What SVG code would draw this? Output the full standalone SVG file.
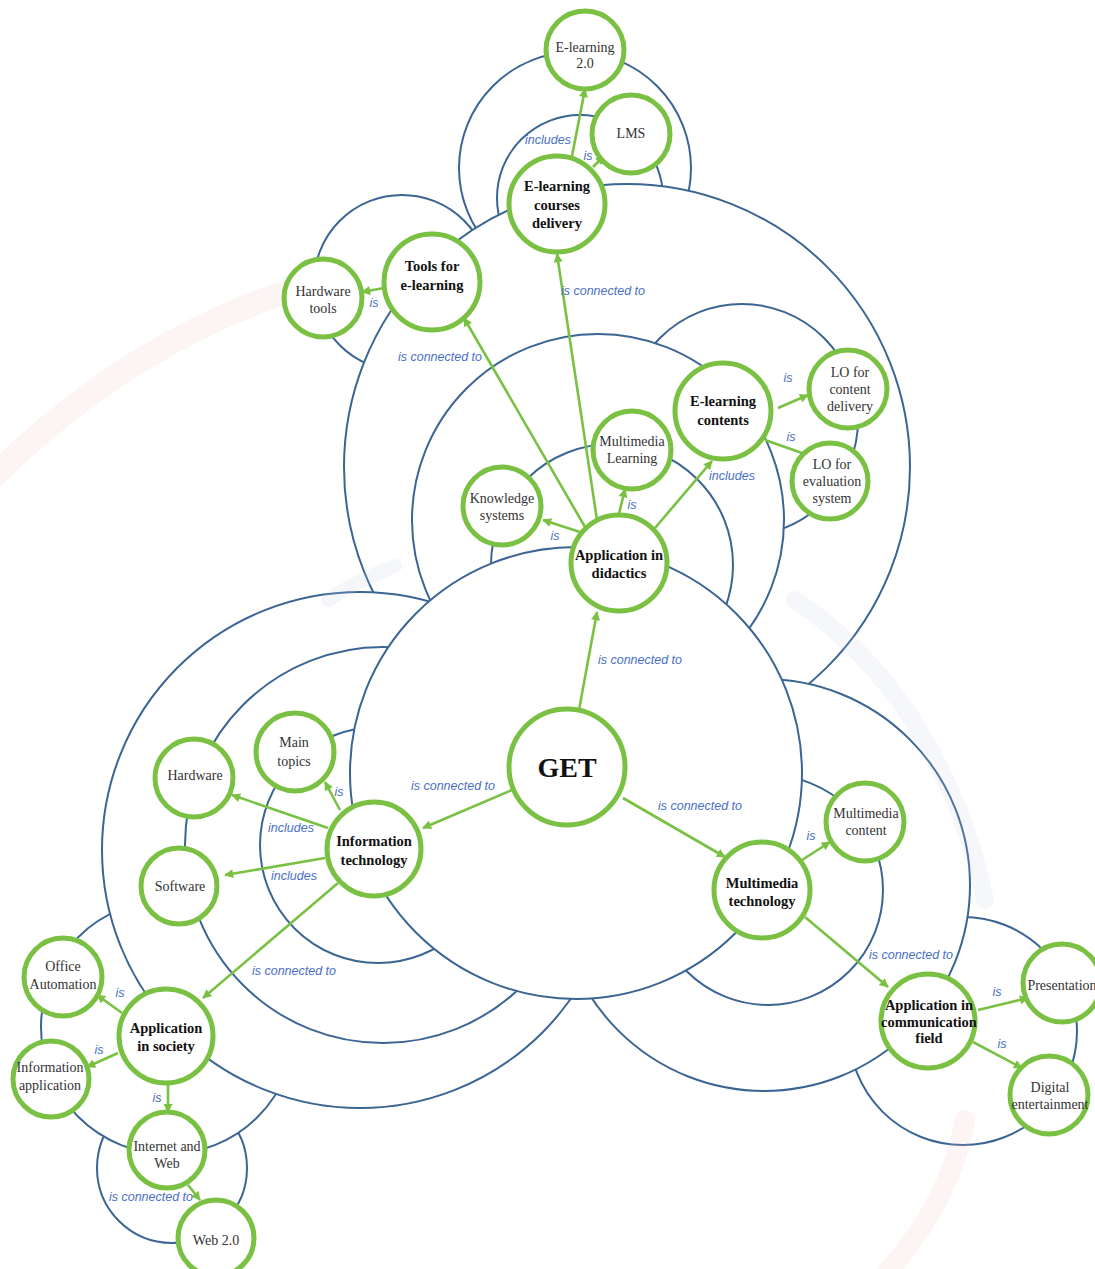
<svg xmlns="http://www.w3.org/2000/svg" width="1095" height="1269" viewBox="0 0 1095 1269">
<style>
.region{fill:#fff;stroke:#3b6593;stroke-width:2}
.node circle{fill:#fff;stroke:#7ac143;stroke-width:5}
.edge{stroke:#7ac143;stroke-width:2.6;fill:none;marker-end:url(#arrow)}
.edge-plain{stroke:#7ac143;stroke-width:2.6;fill:none}
.lbl{font-family:"Liberation Sans",Arial,sans-serif;font-style:italic;font-size:12.5px;fill:#4b6fc6;text-anchor:middle}
.t{font-family:"Liberation Serif","Times New Roman",serif;font-size:14px;fill:#333;text-anchor:middle}
.tb{font-family:"Liberation Serif","Times New Roman",serif;font-weight:bold;font-size:14.5px;fill:#111;text-anchor:middle}
.wm{fill:none;stroke-linecap:round}
</style>
<defs>
<marker id="arrow" viewBox="0 0 10 10" refX="9" refY="5" markerWidth="10" markerHeight="9" markerUnits="userSpaceOnUse" orient="auto"><path d="M0,0 L10,5 L0,10 z" fill="#7ac143"/></marker>
</defs>
<rect width="1095" height="1269" fill="#fff"/>
<g id="regions">
<circle class="region" cx="575" cy="168" r="116"/>
<circle class="region" cx="580" cy="198" r="83"/>
<circle class="region" cx="402" cy="283" r="88"/>
<circle class="region" cx="627" cy="467" r="283"/>
<circle class="region" cx="742" cy="420" r="116"/>
<circle class="region" cx="598" cy="520" r="186"/>
<circle class="region" cx="612" cy="565" r="121"/>
<circle class="region" cx="963" cy="1031" r="114"/>
<circle class="region" cx="764" cy="885" r="206"/>
<circle class="region" cx="768" cy="890" r="115"/>
<circle class="region" cx="172" cy="1168" r="75"/>
<circle class="region" cx="168" cy="1027" r="127"/>
<circle class="region" cx="360" cy="850" r="258"/>
<circle class="region" cx="383" cy="845" r="198"/>
<circle class="region" cx="378" cy="845" r="118"/>
<circle class="region" cx="576" cy="773" r="226"/>
</g>
<g id="watermark" opacity="0.16">
<path class="wm" d="M-10,480 C80,390 190,320 300,288" stroke="#f2b8b8" stroke-width="24"/>
<path class="wm" d="M965,1120 C955,1180 925,1230 885,1275" stroke="#f2b8b8" stroke-width="20"/>
<path class="wm" d="M795,600 C885,660 955,760 985,900" stroke="#c5cde0" stroke-width="18"/>
<path class="wm" d="M328,600 C350,585 372,575 395,566" stroke="#c5cde0" stroke-width="14"/>
</g>
<g id="connectors">
<line class="edge" x1="579" y1="710" x2="597" y2="612"/>
<line class="edge" x1="512" y1="790" x2="423" y2="828"/>
<line class="edge" x1="623" y1="798" x2="725" y2="857"/>
<line class="edge" x1="585" y1="527" x2="464" y2="318"/>
<line class="edge" x1="597" y1="520" x2="557" y2="254"/>
<line class="edge" x1="583" y1="533" x2="543" y2="520"/>
<line class="edge" x1="618" y1="518" x2="625" y2="489"/>
<line class="edge" x1="655" y1="528" x2="712" y2="461"/>
<line class="edge" x1="572" y1="156" x2="585" y2="89"/>
<line class="edge" x1="593" y1="167" x2="604" y2="156"/>
<line class="edge" x1="384" y1="288" x2="362" y2="292"/>
<line class="edge" x1="778" y1="408" x2="808" y2="395"/>
<line class="edge-plain" x1="765" y1="440" x2="802" y2="453"/>
<line class="edge" x1="340" y1="810" x2="325" y2="782"/>
<line class="edge" x1="328" y1="828" x2="232" y2="795"/>
<line class="edge" x1="325" y1="858" x2="225" y2="875"/>
<line class="edge" x1="338" y1="883" x2="203" y2="998"/>
<line class="edge" x1="802" y1="860" x2="830" y2="842"/>
<line class="edge" x1="805" y1="917" x2="888" y2="987"/>
<line class="edge" x1="978" y1="1010" x2="1028" y2="998"/>
<line class="edge" x1="973" y1="1042" x2="1022" y2="1068"/>
<line class="edge" x1="122" y1="1013" x2="97" y2="995"/>
<line class="edge" x1="118" y1="1053" x2="87" y2="1067"/>
<line class="edge" x1="168" y1="1082" x2="168" y2="1112"/>
<line class="edge" x1="188" y1="1185" x2="200" y2="1200"/>
<text class="lbl" x="640" y="664">is connected to</text>
<text class="lbl" x="453" y="790">is connected to</text>
<text class="lbl" x="700" y="810">is connected to</text>
<text class="lbl" x="440" y="361">is connected to</text>
<text class="lbl" x="603" y="295">is connected to</text>
<text class="lbl" x="555" y="540">is</text>
<text class="lbl" x="632" y="509">is</text>
<text class="lbl" x="732" y="480">includes</text>
<text class="lbl" x="548" y="144">includes</text>
<text class="lbl" x="588" y="160">is</text>
<text class="lbl" x="374" y="307">is</text>
<text class="lbl" x="788" y="382">is</text>
<text class="lbl" x="791" y="441">is</text>
<text class="lbl" x="339" y="796">is</text>
<text class="lbl" x="291" y="832">includes</text>
<text class="lbl" x="294" y="880">includes</text>
<text class="lbl" x="294" y="975">is connected to</text>
<text class="lbl" x="811" y="840">is</text>
<text class="lbl" x="911" y="959">is connected to</text>
<text class="lbl" x="997" y="996">is</text>
<text class="lbl" x="1002" y="1048">is</text>
<text class="lbl" x="120" y="997">is</text>
<text class="lbl" x="99" y="1054">is</text>
<text class="lbl" x="157" y="1102">is</text>
<text class="lbl" x="151" y="1201">is connected to</text>
</g>
<g id="node-get" class="node"><circle cx="567" cy="767" r="58"/><text class="tb" x="567" y="777" style="font-size:28px">GET</text></g>
<g id="node-app-didactics" class="node"><circle cx="619" cy="563" r="48"/><text class="tb" x="619" y="560">Application in</text><text class="tb" x="619" y="578">didactics</text></g>
<g id="node-info-tech" class="node"><circle cx="374" cy="849" r="47"/><text class="tb" x="374" y="846">Information</text><text class="tb" x="374" y="865">technology</text></g>
<g id="node-mm-tech" class="node"><circle cx="762" cy="890" r="48"/><text class="tb" x="762" y="888">Multimedia</text><text class="tb" x="762" y="906">technology</text></g>
<g id="node-ecd" class="node"><circle cx="557" cy="204" r="48"/><text class="tb" x="557" y="191">E-learning</text><text class="tb" x="557" y="210">courses</text><text class="tb" x="557" y="228">delivery</text></g>
<g id="node-tools" class="node"><circle cx="432" cy="282" r="48"/><text class="tb" x="432" y="271">Tools for</text><text class="tb" x="432" y="290">e-learning</text></g>
<g id="node-el-contents" class="node"><circle cx="723" cy="411" r="48"/><text class="tb" x="723" y="406">E-learning</text><text class="tb" x="723" y="425">contents</text></g>
<g id="node-app-comm" class="node"><circle cx="928" cy="1021" r="47"/><text class="tb" x="929" y="1010">Application in</text><text class="tb" x="929" y="1027">communication</text><text class="tb" x="929" y="1043">field</text></g>
<g id="node-app-society" class="node"><circle cx="166" cy="1036" r="47"/><text class="tb" x="166" y="1033">Application</text><text class="tb" x="166" y="1051">in society</text></g>
<g id="node-el20" class="node"><circle cx="585" cy="50" r="39"/><text class="t" x="585" y="52">E-learning</text><text class="t" x="585" y="68">2.0</text></g>
<g id="node-lms" class="node"><circle cx="631" cy="134" r="39"/><text class="t" x="631" y="138">LMS</text></g>
<g id="node-hw-tools" class="node"><circle cx="323" cy="298" r="39"/><text class="t" x="323" y="296">Hardware</text><text class="t" x="323" y="313">tools</text></g>
<g id="node-knowledge" class="node"><circle cx="502" cy="506" r="39"/><text class="t" x="502" y="503">Knowledge</text><text class="t" x="502" y="520">systems</text></g>
<g id="node-mm-learning" class="node"><circle cx="632" cy="450" r="39"/><text class="t" x="632" y="446">Multimedia</text><text class="t" x="632" y="463">Learning</text></g>
<g id="node-lo-content" class="node"><circle cx="848" cy="389" r="39"/><text class="t" x="850" y="377">LO for</text><text class="t" x="850" y="394">content</text><text class="t" x="850" y="411">delivery</text></g>
<g id="node-lo-eval" class="node"><circle cx="830" cy="481" r="38"/><text class="t" x="832" y="469">LO for</text><text class="t" x="832" y="486">evaluation</text><text class="t" x="832" y="503">system</text></g>
<g id="node-main-topics" class="node"><circle cx="295" cy="752" r="39"/><text class="t" x="294" y="747">Main</text><text class="t" x="294" y="766">topics</text></g>
<g id="node-hardware" class="node"><circle cx="194" cy="778" r="39"/><text class="t" x="195" y="780">Hardware</text></g>
<g id="node-software" class="node"><circle cx="179" cy="886" r="38"/><text class="t" x="180" y="891">Software</text></g>
<g id="node-mm-content" class="node"><circle cx="865" cy="822" r="39"/><text class="t" x="866" y="818">Multimedia</text><text class="t" x="866" y="835">content</text></g>
<g id="node-office" class="node"><circle cx="63" cy="977" r="39"/><text class="t" x="63" y="971">Office</text><text class="t" x="63" y="989">Automation</text></g>
<g id="node-info-app" class="node"><circle cx="51" cy="1079" r="38"/><text class="t" x="50" y="1072">Information</text><text class="t" x="50" y="1090">application</text></g>
<g id="node-internet" class="node"><circle cx="167" cy="1150" r="38"/><text class="t" x="167" y="1151">Internet and</text><text class="t" x="167" y="1168">Web</text></g>
<g id="node-web20" class="node"><circle cx="216" cy="1238" r="38"/><text class="t" x="216" y="1245">Web 2.0</text></g>
<g id="node-presentation" class="node"><circle cx="1062" cy="983" r="39"/><text class="t" x="1062" y="990">Presentation</text></g>
<g id="node-digital" class="node"><circle cx="1049" cy="1095" r="39"/><text class="t" x="1050" y="1092">Digital</text><text class="t" x="1050" y="1109">entertainment</text></g>
</svg>
